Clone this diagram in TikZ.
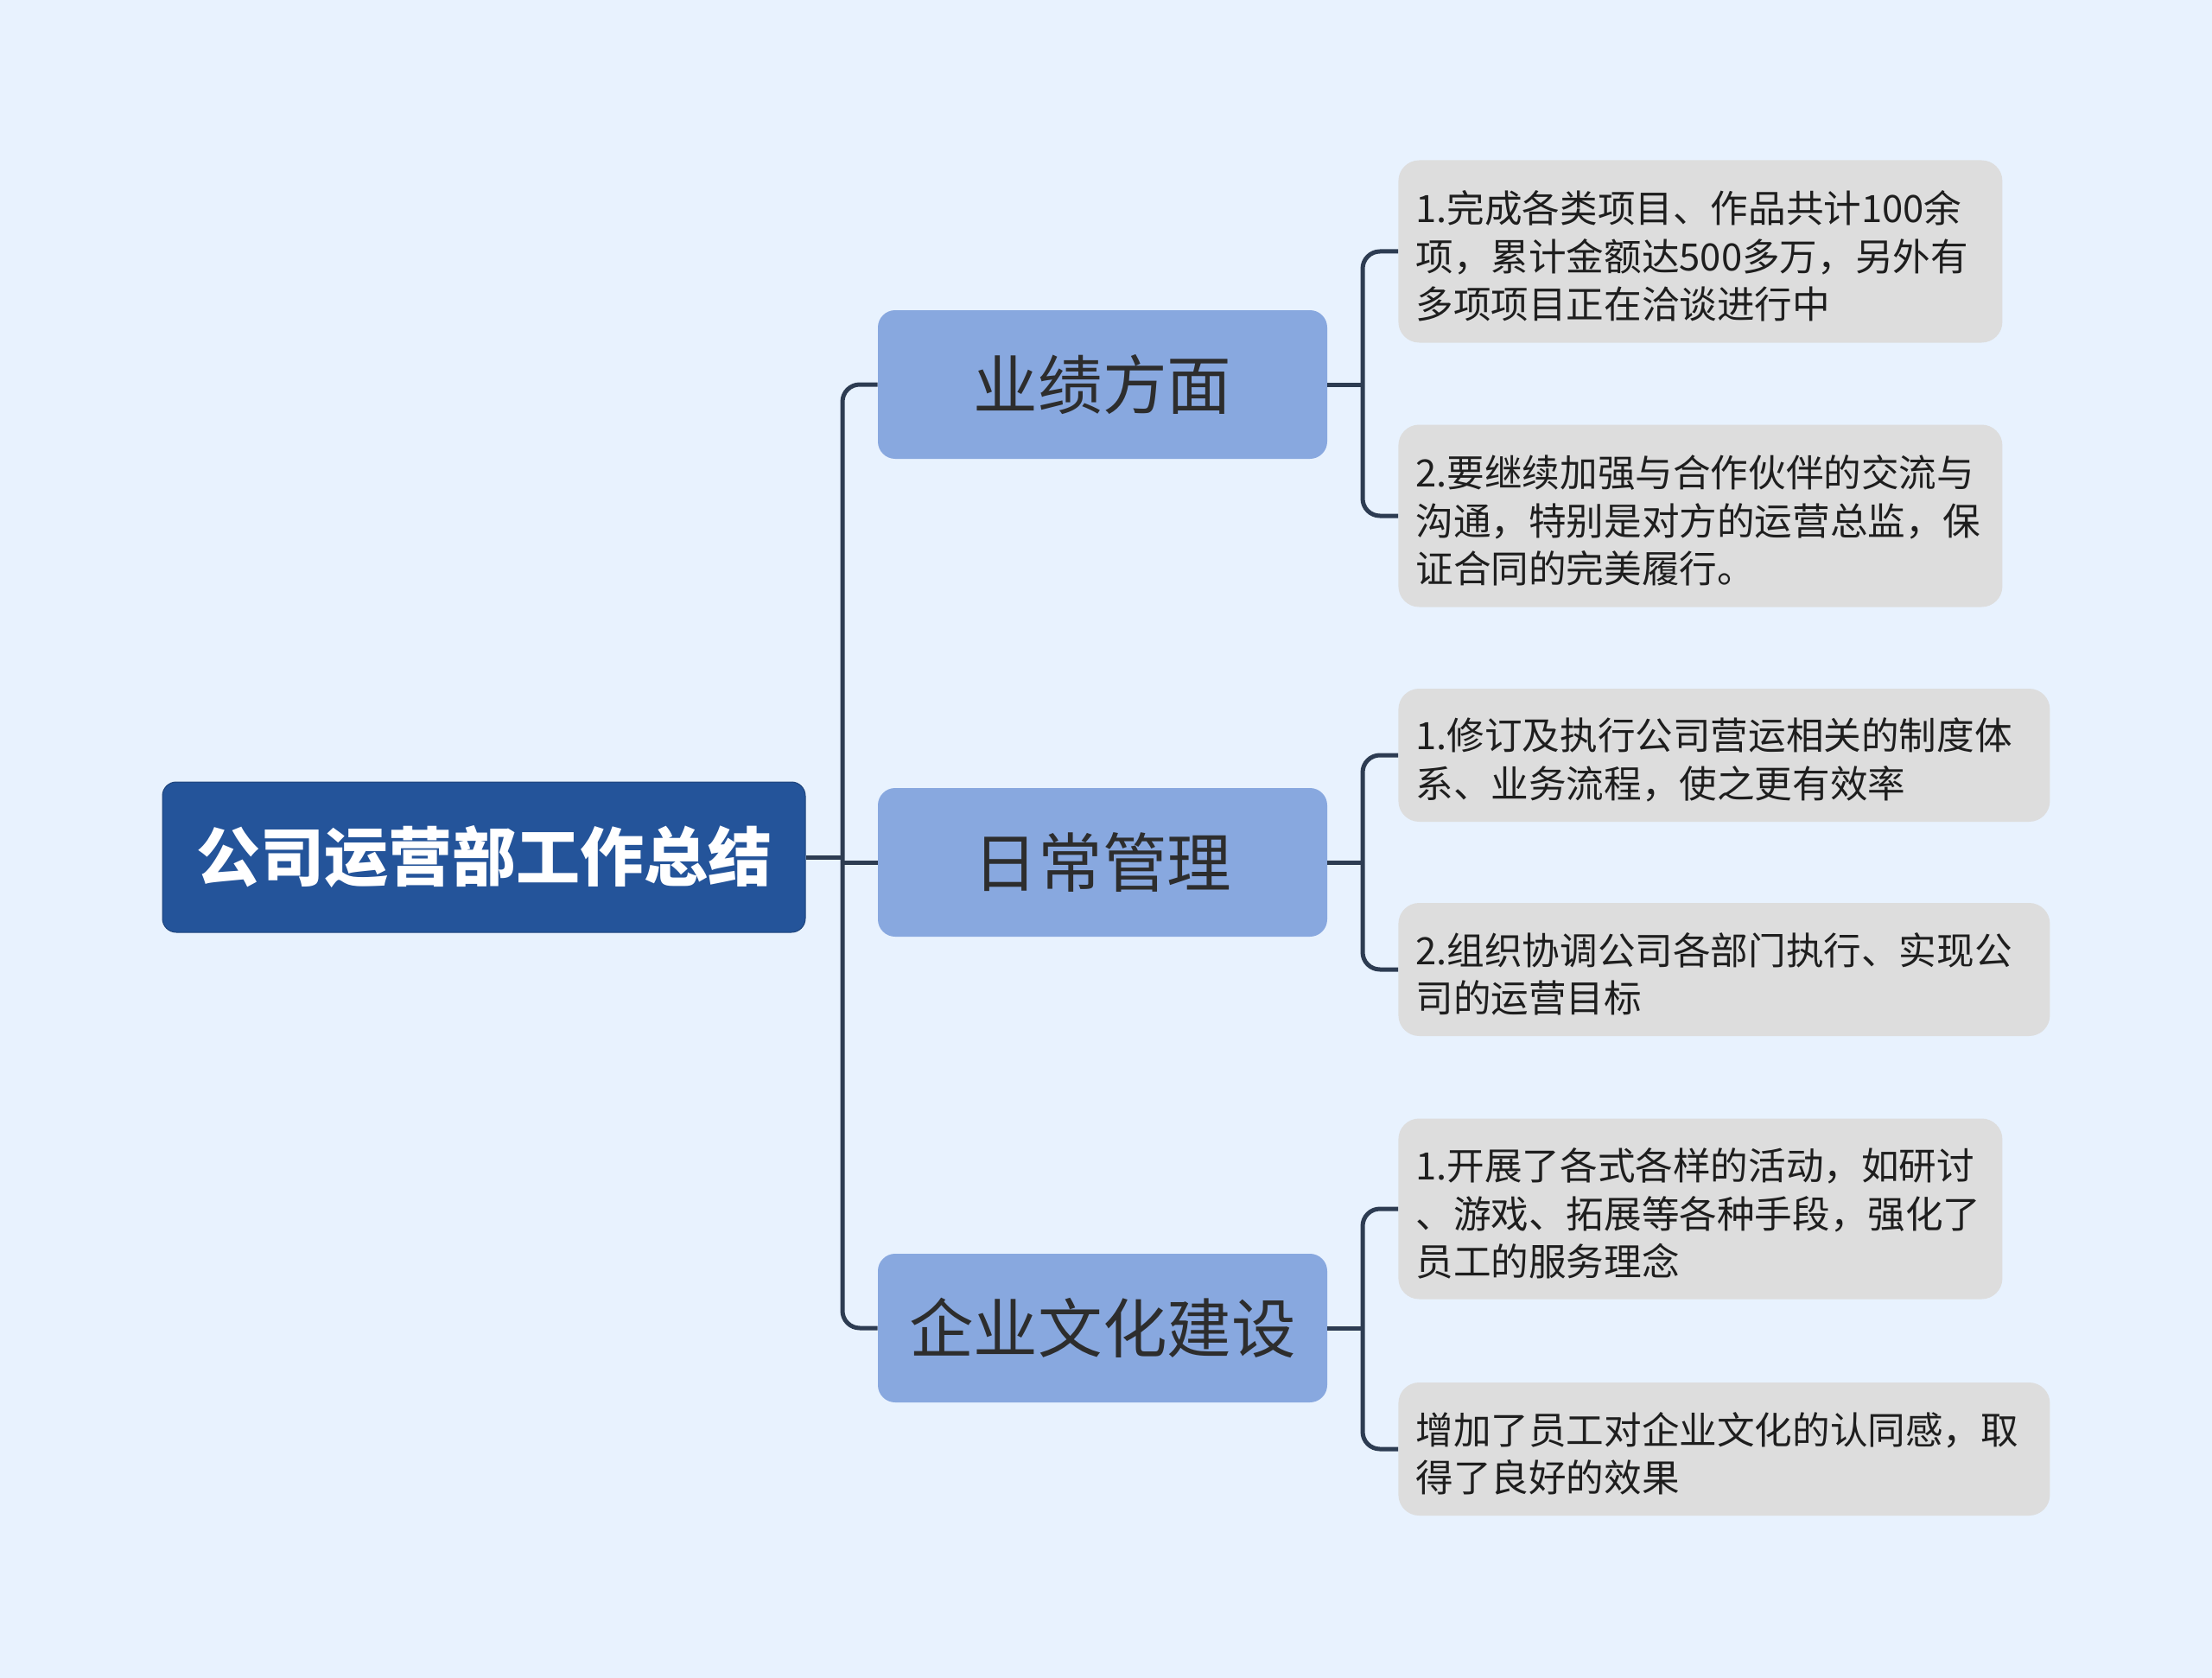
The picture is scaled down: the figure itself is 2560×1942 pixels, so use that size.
\documentclass[tikz,border=0pt]{standalone}
\usepackage{fontspec}
\setmainfont{Noto Sans CJK SC}
\definecolor{bgc}{RGB}{232,242,254}
\definecolor{rootc}{RGB}{36,84,154}
\definecolor{branchc}{RGB}{136,168,223}
\definecolor{leafc}{RGB}{221,221,221}
\definecolor{linec}{RGB}{45,60,82}
\definecolor{textc}{RGB}{45,45,45}
\definecolor{leaftext}{RGB}{30,30,30}
\newcommand{\topgap}{\rule{0pt}{24pt}}
\begin{document}
\begin{tikzpicture}[x=0.5pt,y=-0.5pt,
  conn/.style={draw=linec, line width=2.5pt},
  rconn/.style={draw=linec, line width=2.5pt, rounded corners=10pt},
  rootbox/.style={fill=rootc, draw=rootc!80!black, line width=0.5pt, rounded corners=8pt, minimum width=372pt, minimum height=87pt, text=white, font=\fontsize{37pt}{40pt}\selectfont\bfseries, inner sep=0pt},
  branchbox/.style={fill=branchc, rounded corners=10pt, minimum width=260pt, minimum height=86pt, text=textc, font=\fontsize{37.3pt}{40pt}\selectfont, inner sep=0pt},
  leafbox/.style={fill=leafc, rounded corners=12pt, anchor=west, align=left, text=leaftext, font=\fontsize{21.8pt}{27.75pt}\selectfont, inner xsep=10pt, inner ysep=0pt}
]
\fill[bgc] (0,0) rectangle (2560,1942);
\useasboundingbox (0,0) rectangle (2560,1942);

\node[rootbox] (root) at (560,992) {公司运营部工作总结};
\node[branchbox] (b1) at (1276,445) {业绩方面};
\node[branchbox] (b2) at (1276,998) {日常管理};
\node[branchbox] (b3) at (1276,1537) {企业文化建设};

\node[leafbox, text width=329.5pt, minimum height=105.5pt] (l1) at (1618,291)
  {\topgap 1.完成各类项目、作品共计100余\\项，累计金额达500多万，另外有\\多项项目正在洽谈进行中};
\node[leafbox, text width=329.5pt, minimum height=105.5pt] (l2) at (1618,597)
  {\topgap 2.要继续加强与合作伙伴的交流与\\沟通，特别是对方的运营总监，保\\证合同的完美履行。};
\node[leafbox, text width=357pt, minimum height=77pt] (l3) at (1618,874)
  {\topgap 1.修订及执行公司营运相关的制度体\\系、业务流程，使之更有效率};
\node[leafbox, text width=357pt, minimum height=77pt] (l4) at (1618,1122)
  {\topgap 2.组织协调公司各部门执行、实现公\\司的运营目标};
\node[leafbox, text width=329.5pt, minimum height=104.5pt] (l5) at (1618,1399)
  {\topgap 1.开展了各式各样的活动，如研讨\\、游戏、拓展等各种手段，强化了\\员工的服务理念};
\node[leafbox, text width=357pt, minimum height=77pt] (l6) at (1618,1677)
  {\topgap 增加了员工对企业文化的认同感，取\\得了良好的效果};

\coordinate (tx) at (975,992);
\draw[conn] (root.east) -- (root.east -| tx);
\draw[rconn] (b1.west) -| (tx) |- (b3.west);
\draw[conn] (b2.west -| tx) -- (b2.west);

\coordinate (j1) at (1577,445);
\coordinate (j2) at (1577,998);
\coordinate (j3) at (1577,1537);
\draw[conn] (b1.east) -- (j1);
\draw[conn] (b2.east) -- (j2);
\draw[conn] (b3.east) -- (j3);
\draw[rconn] (l1.west) -| (j1) |- (l2.west);
\draw[rconn] (l3.west) -| (j2) |- (l4.west);
\draw[rconn] (l5.west) -| (j3) |- (l6.west);
\end{tikzpicture}
\end{document}
